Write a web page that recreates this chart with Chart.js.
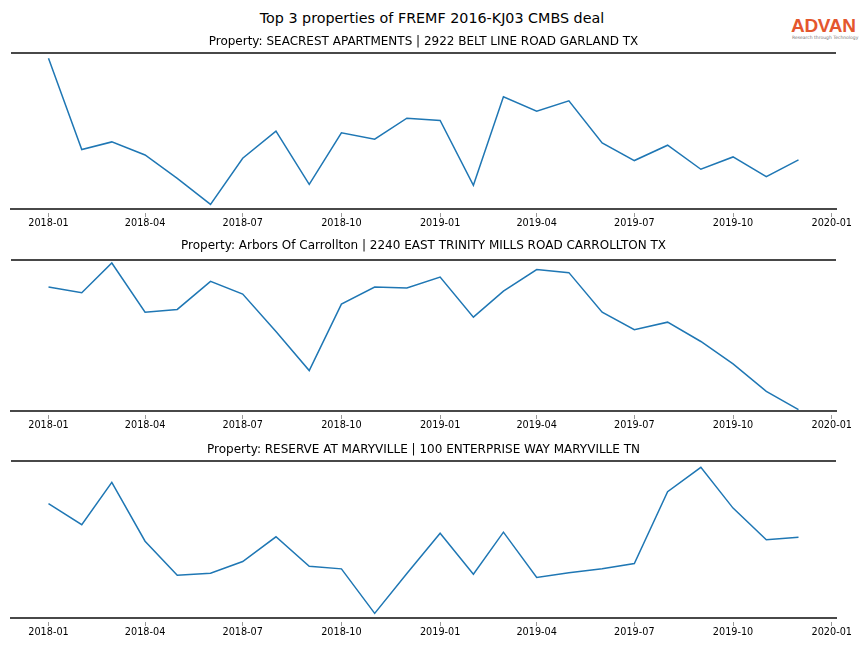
<!DOCTYPE html>
<html>
<head>
<meta charset="utf-8">
<script src="https://cdn.jsdelivr.net/npm/chart.js@4.4.1/dist/chart.umd.min.js"></script>
<style>
  body { margin: 0; background: #fff; }
  #wrap { position: relative; width: 864px; height: 648px; overflow: hidden; font-family: "DejaVu Sans", sans-serif; }
  canvas { position: absolute; left: 0; }
  #main-title { position: absolute; left: 0; width: 864px; top: 10px; text-align: center; font-size: 14.3px; color: #000; }
  #logo { position: absolute; left: 791px; top: 16px; width: 70px; text-align: left; }
  #logo .brand { font-family: "Liberation Sans", sans-serif; font-size: 19px; font-weight: bold; color: #e4572e; letter-spacing: -0.3px; line-height: 19px; }
  #logo .tag { font-size: 4.5px; color: #777; line-height: 6px; margin-left: 1px; }
</style>
</head>
<body>
<div id="wrap">
  <div id="main-title">Top 3 properties of FREMF 2016-KJ03 CMBS deal</div>
  <div id="logo"><div class="brand">ADVAN</div><div class="tag">Research through Technology</div></div>
  <canvas id="c1" width="864" height="200"></canvas>
  <canvas id="c2" width="864" height="200"></canvas>
  <canvas id="c3" width="864" height="200"></canvas>
</div>
<script>
const months = ['2018-01', '2018-02', '2018-03', '2018-04', '2018-05', '2018-06',
                '2018-07', '2018-08', '2018-09', '2018-10', '2018-11', '2018-12',
                '2019-01', '2019-02', '2019-03', '2019-04', '2019-05', '2019-06',
                '2019-07', '2019-08', '2019-09', '2019-10', '2019-11', '2019-12'];
const tickLabels = ['2018-01', '2018-04', '2018-07', '2018-10', '2019-01', '2019-04', '2019-07', '2019-10', '2020-01'];

const titles = [
  'Property: SEACREST APARTMENTS | 2922 BELT LINE ROAD GARLAND TX',
  'Property: Arbors Of Carrollton | 2240 EAST TRINITY MILLS ROAD CARROLLTON TX',
  'Property: RESERVE AT MARYVILLE | 100 ENTERPRISE WAY MARYVILLE TN'
];

// no y scale in the picture, values are read as relative heights
const seacrest = [150.7, 59.7, 67.3, 54.3, 31, 5, 51, 78, 25, 76.3, 70, 91,
                  88.7, 24, 112.3, 98, 108.3, 66.3, 48.7, 64, 40, 52.3, 32.7, 49.3];
const arbors = [124, 118.4, 148, 99, 101.7, 129.7, 117, 79.7, 40.7, 107, 124, 123,
                134, 94, 120, 141.4, 138.4, 99, 81.4, 89, 69.7, 47.4, 20, 1.7];
const reserve = [114.4, 93.4, 135.7, 77, 43, 45, 56.7, 81.4, 52, 49.4, 5, 44.7,
                 85, 44, 86, 40.7, 45.4, 49.4, 54.7, 126.4, 150.7, 110, 78.4, 81];
// visible y range of each panel in the same units
const yMaxes = [156, 151, 157];

function dayNum(s) {
  const [y, m] = s.split('-').map(Number);
  return Date.UTC(y, m - 1, 1) / 864e5;
}

const xs = months.map(dayNum);
const tickVals = tickLabels.map(dayNum);
const xPad = (xs[xs.length - 1] - xs[0]) * 0.05;

const spines = {
  id: 'spines',
  afterDraw(chart) {
    const { ctx, chartArea: a } = chart;
    ctx.save();
    ctx.strokeStyle = '#484848';
    ctx.lineWidth = 2;
    ctx.beginPath();
    ctx.moveTo(a.left, a.top);
    ctx.lineTo(a.right, a.top);
    ctx.stroke();
    ctx.restore();
  }
};

function makePanel(id, title, values, yMax, titleY, areaTop, areaBottom) {
  const cv = document.getElementById(id);
  const top = areaTop - 26;
  const lh = 12 * 1.2;
  const p1 = titleY - lh / 2 - top;
  const p2 = areaTop - top - p1 - lh;
  cv.style.top = top + 'px';
  cv.height = areaBottom - top + 20;

  new Chart(cv, {
    type: 'line',
    data: {
      datasets: [{
        data: values.map((v, i) => ({ x: xs[i], y: v })),
        borderColor: '#1f77b4',
        borderWidth: 1.5,
        pointRadius: 0,
        tension: 0,
        fill: false
      }]
    },
    options: {
      responsive: false,
      animation: false,
      layout: { padding: { left: 11, right: 28, top: 0, bottom: 0 } },
      plugins: {
        legend: { display: false },
        tooltip: { enabled: false },
        title: {
          display: true,
          text: title,
          color: '#000',
          font: { family: 'DejaVu Sans', size: 12, weight: 'normal' },
          padding: { top: p1, bottom: p2 }
        }
      },
      scales: {
        x: {
          type: 'linear',
          min: xs[0] - xPad,
          max: xs[xs.length - 1] + xPad,
          afterBuildTicks(scale) {
            scale.ticks = tickVals.map(v => ({ value: v }));
          },
          border: { display: true, color: '#484848', width: 2 },
          grid: {
            drawOnChartArea: false,
            drawTicks: true,
            tickLength: 8,
            tickColor: '#999',
            tickWidth: 1,
            tickBorderDash: [0, 3, 4, 10]
          },
          ticks: {
            padding: 0,
            maxRotation: 0,
            autoSkip: false,
            color: '#000',
            font: { family: 'DejaVu Sans', size: 9.7 },
            callback: (v) => tickLabels[tickVals.indexOf(v)]
          }
        },
        y: {
          display: false,
          min: 0,
          max: yMax
        }
      }
    },
    plugins: [spines]
  });
}

makePanel('c1', titles[0], seacrest, yMaxes[0], 41.7, 53, 209);
makePanel('c2', titles[1], arbors, yMaxes[1], 245.7, 260, 411);
makePanel('c3', titles[2], reserve, yMaxes[2], 450, 461, 618);
</script>
</body>
</html>
